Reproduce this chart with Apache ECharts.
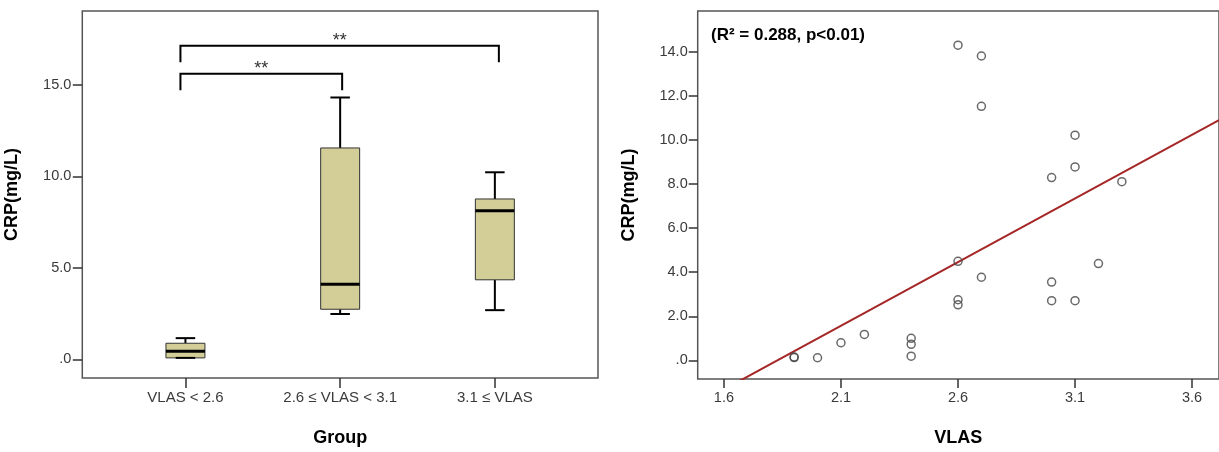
<html>

<head>
    <meta charset='utf-8' />
    <script src="https://cdn.jsdelivr.net/npm/echarts@6/dist/echarts.min.js"></script>
    <title>CRP by VLAS</title>
    <style>
        body {
            margin: 0;
            overflow: hidden;
            background: #fff;
        }

        #chart {
            width: 1219px;
            height: 452px;
        }
    </style>
</head>

<body>
    <div id="chart"></div>
    <script type="text/javascript">
        // left panel: box plot per group
        var groups = ['VLAS < 2.6', '2.6 ≤ VLAS < 3.1', '3.1 ≤ VLAS'];
        var boxMin = [0.08, 2.48, 2.69];
        var boxQ1 = [0.08, 2.74, 4.35];
        var boxMedian = [0.44, 4.11, 8.12];
        var boxQ3 = [0.88, 11.56, 8.77];
        var boxMax = [1.16, 14.32, 10.23];
        var leftTicks = [0, 5, 10, 15];

        // significance brackets (group index from / to, height in mg/L)
        var bracketFrom = [0, 0];
        var bracketTo = [1, 2];
        var bracketTop = [15.62, 17.15];
        var bracketText = ['**', '**'];

        // right panel: scatter + fitted line
        var vlas = [2.6, 2.7, 2.7, 3.1, 3.1, 3.0, 3.3, 2.6, 2.7, 3.2, 3.0, 2.6, 2.6, 3.0, 3.1, 2.2, 2.1, 2.4, 2.4, 2.4, 1.9, 1.9, 2.0];
        var crp = [14.29, 13.80, 11.52, 10.21, 8.77, 8.29, 8.10, 4.49, 3.77, 4.39, 3.55, 2.75, 2.52, 2.71, 2.71, 1.18, 0.80, 1.00, 0.73, 0.19, 0.13, 0.15, 0.12];
        var fitSlope = 5.774;
        var fitIntercept = -10.555;
        var vlasTicks = [1.6, 2.1, 2.6, 3.1, 3.6];
        var rightTicks = [0, 2, 4, 6, 8, 10, 12, 14];
        var statText = '(R² = 0.288, p<0.01)';

        var FONT = '"Liberation Sans", Arial, sans-serif';
        var frameColor = '#555';
        var labelColor = '#3a3a3a';

        var boxData = groups.map(function(g, i) {
            return [i, boxMin[i], boxQ1[i], boxMedian[i], boxQ3[i], boxMax[i]];
        });
        var bracketData = bracketFrom.map(function(f, i) {
            return [f, bracketTo[i], bracketTop[i], i];
        });
        var scatterData = vlas.map(function(v, i) {
            return [v, crp[i]];
        });
        var xLo = 1.488,
            xHi = 3.715;
        var fitData = [
            [xLo, fitIntercept + fitSlope * xLo],
            [xHi, fitIntercept + fitSlope * xHi]
        ];

        function fmtY(v) {
            return v === 0 ? '.0' : v.toFixed(1);
        }

        function renderBox(params, api) {
            var x = api.value(0);
            var pMin = api.coord([x, api.value(1)]);
            var pQ1 = api.coord([x, api.value(2)]);
            var pMed = api.coord([x, api.value(3)]);
            var pQ3 = api.coord([x, api.value(4)]);
            var pMax = api.coord([x, api.value(5)]);
            var halfW = api.size([0.252, 0])[0] / 2;
            var cap = halfW / 2;
            var cx = pMed[0];
            var whisker = { stroke: '#000', lineWidth: 2 };
            return {
                type: 'group',
                children: [{
                    type: 'line',
                    shape: { x1: cx, y1: pMax[1], x2: cx, y2: pQ3[1] },
                    style: whisker
                }, {
                    type: 'line',
                    shape: { x1: cx - cap, y1: pMax[1], x2: cx + cap, y2: pMax[1] },
                    style: whisker
                }, {
                    type: 'line',
                    shape: { x1: cx, y1: pQ1[1], x2: cx, y2: pMin[1] },
                    style: whisker
                }, {
                    type: 'rect',
                    shape: { x: cx - halfW, y: pQ3[1], width: halfW * 2, height: pQ1[1] - pQ3[1] },
                    style: { fill: '#d3ce98', stroke: '#333', lineWidth: 1 }
                }, {
                    type: 'line',
                    shape: { x1: cx - cap, y1: pMin[1], x2: cx + cap, y2: pMin[1] },
                    style: whisker
                }, {
                    type: 'line',
                    shape: { x1: cx - halfW, y1: pMed[1], x2: cx + halfW, y2: pMed[1] },
                    style: { stroke: '#000', lineWidth: 3 }
                }]
            };
        }

        function renderBracket(params, api) {
            var a = api.coord([api.value(0), api.value(2)]);
            var b = api.coord([api.value(1), api.value(2)]);
            var x1 = a[0] - 5,
                x2 = b[0] + 2 + api.value(3) * 2,
                y = a[1],
                drop = 16.5;
            return {
                type: 'group',
                children: [{
                    type: 'polyline',
                    shape: { points: [[x1, y + drop], [x1, y], [x2, y], [x2, y + drop]] },
                    style: { stroke: '#000', lineWidth: 2, fill: null }
                }, {
                    type: 'text',
                    style: {
                        x: (x1 + x2) / 2,
                        y: y - 5,
                        text: bracketText[params.dataIndex],
                        font: '18px ' + FONT,
                        fill: '#333',
                        align: 'center',
                        verticalAlign: 'middle'
                    }
                }]
            };
        }

        var tickStyle = { color: '#333', width: 1.5 };
        var titleStyle = { fontFamily: FONT, fontWeight: 'bold', fontSize: 18, color: '#000' };
        var hiddenLine = { show: false, onZero: false };

        var option = {
            animation: false,
            backgroundColor: '#fff',
            textStyle: { fontFamily: FONT },
            grid: [{
                left: 82.3,
                top: 11,
                width: 515.7,
                height: 380.7,
                show: true,
                borderColor: frameColor,
                borderWidth: 1.5
            }, {
                left: 697.7,
                top: 11,
                width: 522.7,
                height: 382,
                show: true,
                borderColor: frameColor,
                borderWidth: 1.5
            }],
            xAxis: [{
                gridIndex: 0,
                type: 'value',
                min: -2 / 3,
                max: 8 / 3,
                name: 'Group',
                nameLocation: 'middle',
                nameGap: 51,
                nameTextStyle: titleStyle,
                axisLine: hiddenLine,
                splitLine: { show: false },
                axisTick: { customValues: [0, 1, 2], length: 10, lineStyle: tickStyle },
                axisLabel: {
                    customValues: [0, 1, 2],
                    margin: 12,
                    fontSize: 15,
                    color: labelColor,
                    formatter: function(v) {
                        return groups[Math.round(v)];
                    }
                }
            }, {
                gridIndex: 1,
                type: 'value',
                min: xLo,
                max: xHi,
                name: 'VLAS',
                nameLocation: 'middle',
                nameGap: 50,
                nameTextStyle: titleStyle,
                axisLine: hiddenLine,
                splitLine: { show: false },
                axisTick: { customValues: vlasTicks, length: 9, lineStyle: tickStyle },
                axisLabel: {
                    customValues: vlasTicks,
                    margin: 11,
                    fontSize: 14.5,
                    color: labelColor,
                    formatter: function(v) {
                        return v.toFixed(1);
                    }
                }
            }],
            yAxis: [{
                gridIndex: 0,
                type: 'value',
                min: -1.02,
                max: 19.05,
                name: 'CRP(mg/L)',
                nameLocation: 'middle',
                nameRotate: 90,
                nameGap: 61,
                nameTextStyle: titleStyle,
                axisLine: hiddenLine,
                splitLine: { show: false },
                axisTick: { customValues: leftTicks, length: 9.5, lineStyle: tickStyle },
                axisLabel: {
                    customValues: leftTicks,
                    margin: 11,
                    fontSize: 14.5,
                    color: labelColor,
                    formatter: fmtY
                }
            }, {
                gridIndex: 1,
                type: 'value',
                min: -0.843,
                max: 15.84,
                name: 'CRP(mg/L)',
                nameLocation: 'middle',
                nameRotate: 90,
                nameGap: 60,
                nameTextStyle: titleStyle,
                axisLine: hiddenLine,
                splitLine: { show: false },
                axisTick: { customValues: rightTicks, length: 9, lineStyle: tickStyle },
                axisLabel: {
                    customValues: rightTicks,
                    margin: 10,
                    fontSize: 14.5,
                    color: labelColor,
                    formatter: fmtY
                }
            }],
            graphic: [{
                type: 'text',
                left: 711,
                top: 27,
                style: {
                    text: statText,
                    font: 'bold 17px ' + FONT,
                    fill: '#000'
                }
            }],
            series: [{
                type: 'custom',
                xAxisIndex: 0,
                yAxisIndex: 0,
                renderItem: renderBox,
                encode: { x: 0, y: [1, 2, 3, 4, 5] },
                data: boxData
            }, {
                type: 'custom',
                xAxisIndex: 0,
                yAxisIndex: 0,
                renderItem: renderBracket,
                encode: { x: [0, 1], y: 2 },
                data: bracketData
            }, {
                type: 'line',
                xAxisIndex: 1,
                yAxisIndex: 1,
                data: fitData,
                symbol: 'none',
                clip: true,
                lineStyle: { color: '#a52626', width: 2 },
                z: 2
            }, {
                type: 'scatter',
                xAxisIndex: 1,
                yAxisIndex: 1,
                data: scatterData,
                symbol: 'circle',
                symbolSize: 8,
                itemStyle: { color: 'rgba(255,255,255,0)', borderColor: '#444', borderWidth: 1.5 },
                z: 3
            }]
        };

        var chart = echarts.init(document.getElementById('chart'), null, { renderer: 'canvas' });
        chart.setOption(option);
    </script>
</body>

</html>
